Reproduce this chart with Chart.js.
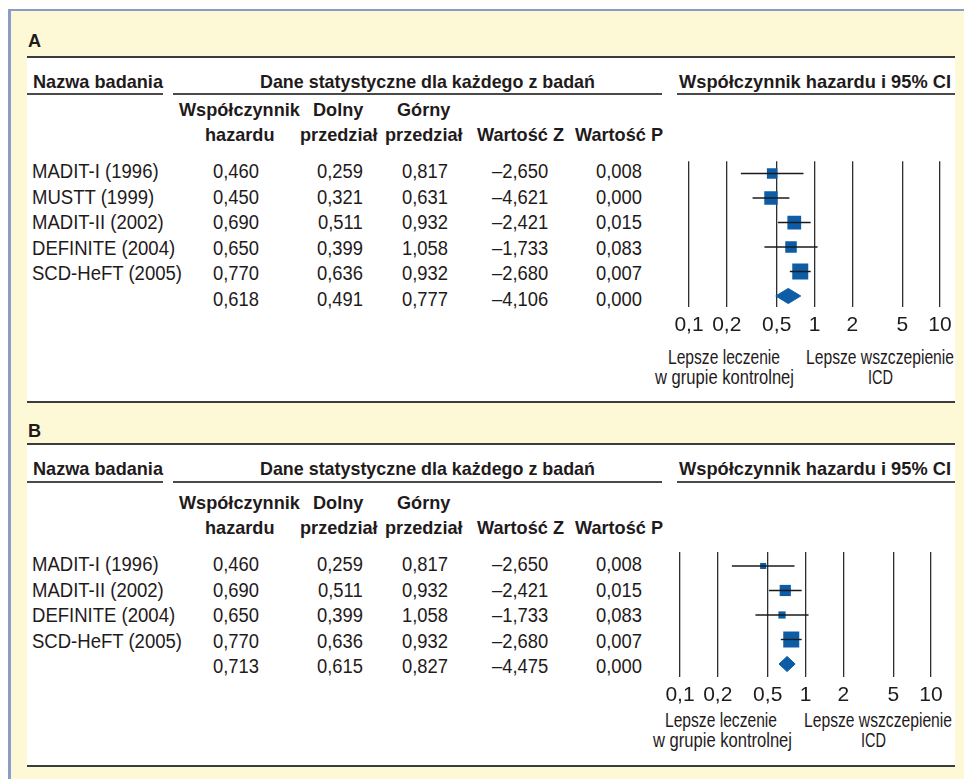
<!DOCTYPE html>
<html>
<head>
<meta charset="utf-8">
<script src="https://cdn.jsdelivr.net/npm/chart.js@4/dist/chart.umd.min.js"></script>
<style>
  html,body{margin:0;padding:0;background:#fff;}
  body{width:964px;height:779px;position:relative;overflow:hidden;
       font-family:"Liberation Sans",Arial,sans-serif;color:#1f1b1c;}
  #frame{position:absolute;left:8px;top:9px;width:956px;height:770px;background:#fdf8d6;
         border-left:3px solid #8b9cc9;border-top:2px solid #8b9cc9;box-sizing:border-box;}
  .panel{position:absolute;left:27px;width:928px;background:#fff;box-sizing:border-box;
         border-top:2px solid #3c3c3c;border-bottom:2px solid #3c3c3c;}
  .rule{position:absolute;height:2px;background:#4a4a4a;}
  .t{position:absolute;white-space:nowrap;line-height:1;transform-origin:0 50%;}
  .cv{position:absolute;}
</style>
</head>
<body>
<div id="frame"></div>
<div class="panel" style="top:56px;height:347px;"></div>
<div class="panel" style="top:443px;height:324px;"></div>
<div id="txt"></div>
<div class="cv" style="left:640px;top:150px;width:324px;height:200px;"><canvas id="chartA"></canvas></div>
<div class="cv" style="left:640px;top:540px;width:324px;height:200px;"><canvas id="chartB"></canvas></div>
<script>
// ---------------- DATA ----------------
const columnHeaders = ['Współczynnik\nhazardu', 'Dolny\nprzedział', 'Górny\nprzedział', 'Wartość Z', 'Wartość P'];

const studiesA = ['MADIT-I (1996)', 'MUSTT (1999)', 'MADIT-II (2002)', 'DEFINITE (2004)', 'SCD-HeFT (2005)', ''];
const hrA    = [0.460, 0.450, 0.690, 0.650, 0.770, 0.618];
const lowerA = [0.259, 0.321, 0.511, 0.399, 0.636, 0.491];
const upperA = [0.817, 0.631, 0.932, 1.058, 0.932, 0.777];
const zA     = [-2.650, -4.621, -2.421, -1.733, -2.680, -4.106];
const pA     = [0.008, 0.000, 0.015, 0.083, 0.007, 0.000];
const weightA = [0.66, 0.84, 0.86, 0.72, 1.00];   // relative study weights (marker size)

const studiesB = ['MADIT-I (1996)', 'MADIT-II (2002)', 'DEFINITE (2004)', 'SCD-HeFT (2005)', ''];
const hrB    = [0.460, 0.690, 0.650, 0.770, 0.713];
const lowerB = [0.259, 0.511, 0.399, 0.636, 0.615];
const upperB = [0.817, 0.932, 1.058, 0.932, 0.827];
const zB     = [-2.650, -2.421, -1.733, -2.680, -4.475];
const pB     = [0.008, 0.015, 0.083, 0.007, 0.000];
const weightB = [0.38, 0.70, 0.45, 1.00];

const tickValues = [0.1, 0.2, 0.5, 1, 2, 5, 10];
const tickLabels = ['0,1', '0,2', '0,5', '1', '2', '5', '10'];

// ---------------- STYLE ----------------
const BLUE = '#0d5ca6';
const FONT = '"Liberation Sans",Arial,sans-serif';
const REG = 20, BOLD = 19;

const txt = document.getElementById('txt');
function measure(text, bold, size){
  const s = document.createElement('span');
  s.className='t'; s.style.fontSize=size+'px'; s.style.fontWeight=bold?'bold':'normal';
  s.textContent=text; s.style.visibility='hidden'; txt.appendChild(s);
  const w = s.getBoundingClientRect().width; txt.removeChild(s); return w;
}
const regScale = 150 / measure('SCD-HeFT (2005)', false, REG);
const numScale = 46 / measure('0,460', false, REG);
const boldScale = 130 / measure('Nazwa badania', true, BOLD);

function put(text, x, cy, align, bold, w, sc){
  const size = bold ? BOLD : REG;
  const s = document.createElement('span');
  s.className='t'; s.style.fontSize=size+'px'; s.style.fontWeight=bold?'bold':'normal';
  s.textContent=text; txt.appendChild(s);
  const raw = s.getBoundingClientRect().width;
  const sx = w ? w/raw : (sc || (bold ? boldScale : regScale));
  const W = raw*sx;
  const left = align==='r' ? x-W : align==='c' ? x-W/2 : x;
  s.style.left = left+'px'; s.style.top = cy+'px';
  s.style.transform = 'translateY(-50%) scaleX('+sx+')';
}
function rule(x1, x2, y){
  const d=document.createElement('div'); d.className='rule';
  d.style.left=x1+'px'; d.style.width=(x2-x1)+'px'; d.style.top=(y-1)+'px'; txt.appendChild(d);
}
const fmt = v => (v<0?'\u2013':'') + Math.abs(v).toFixed(3).replace('.', ',');

function table(letter, studies, hr, lo, hi, z, p, hOff, rOff, letterY){
  put(letter, 28, letterY, 'l', true);
  put('Nazwa badania', 33, 80.5+hOff, 'l', true, 130);
  rule(27, 163, 94+hOff);
  put('Dane statystyczne dla każdego z badań', 260, 80.5+hOff, 'l', true, 335);
  rule(173, 662, 94+hOff);
  put('Współczynnik hazardu i 95% CI', 679, 80.5+hOff, 'l', true, 272);
  rule(677, 955, 94+hOff);
  const centers = [239.5, 338.5, 424, 520, 619.5];
  columnHeaders.forEach((h, i) => {
    const lines = h.split('\n');
    if (lines.length === 2){
      put(lines[0], centers[i], 108.5+rOff, 'c', true);
      put(lines[1], centers[i], 134+rOff, 'c', true);
    } else put(lines[0], centers[i], 134+rOff, 'c', true);
  });
  const rights = [259, 363, 448, 548, 642];
  studies.forEach((s, i) => {
    const y = 171 + 25.6*i + rOff;
    if (s) put(s, 32, y, 'l', false);
    put(fmt(hr[i]), rights[0], y, 'r', false, 0, numScale);
    put(fmt(lo[i]), rights[1], y, 'r', false, 0, numScale);
    put(fmt(hi[i]), rights[2], y, 'r', false, 0, numScale);
    put(fmt(z[i]),  rights[3], y, 'r', false, 0, numScale);
    put(fmt(p[i]),  rights[4], y, 'r', false, 0, numScale);
  });
}
table('A', studiesA, hrA, lowerA, upperA, zA, pA, 0, 0, 40);
table('B', studiesB, hrB, lowerB, upperB, zB, pB, 387.5, 393, 430);

// plot captions
put('Lepsze leczenie', 724, 357, 'c', false, 112);
put('w grupie kontrolnej', 724, 377, 'c', false, 139);
put('Lepsze wszczepienie', 880, 357, 'c', false, 148);
put('ICD', 880, 377, 'c', false, 25);
put('Lepsze leczenie', 721, 720, 'c', false, 112);
put('w grupie kontrolnej', 722, 740, 'c', false, 139);
put('Lepsze wszczepienie', 878, 720, 'c', false, 148);
put('ICD', 873, 740, 'c', false, 25);

// ---------------- CHARTS ----------------
const MAX_SIDE = 16;
function forest(id, hr, lo, hi, wts, pad, ymin, ymax){
  const n = hr.length, last = n-1;
  const datasets = [];
  for (let i=0;i<last;i++){
    datasets.push({data:[{x:lo[i],y:i},{x:hi[i],y:i}], showLine:true, borderColor:'#1b1b1b',
      borderWidth:1.4, pointRadius:0, order:0});
  }
  datasets.push({data: hr.slice(0,last).map((v,i)=>({x:v,y:i})), pointStyle:'rect',
    pointRadius: wts.map(w => w*MAX_SIDE/Math.SQRT2), backgroundColor:BLUE, borderWidth:0, order:1});
  const h = 0.31;
  datasets.push({data:[{x:lo[last],y:last},{x:hr[last],y:last-h},{x:hi[last],y:last},{x:hr[last],y:last+h},{x:lo[last],y:last}],
    showLine:true, fill:'shape', backgroundColor:BLUE, borderColor:BLUE, borderWidth:1, pointRadius:0, tension:0, order:1});
  return new Chart(document.getElementById(id), {
    type:'scatter',
    data:{datasets},
    options:{
      responsive:true, maintainAspectRatio:false, animation:false, events:[],
      layout:{padding:pad},
      plugins:{legend:{display:false}, tooltip:{enabled:false}},
      scales:{
        x:{type:'logarithmic', min:0.1, max:10, position:'bottom',
          afterBuildTicks: ax => { ax.ticks = tickValues.map(v => ({value:v})); },
          afterFit: ax => { ax.height = 40; },
          border:{display:false},
          grid:{color:'#2e2e2e', lineWidth:1.3, drawTicks:false},
          ticks:{autoSkip:false, maxRotation:0, padding:6, color:'#1f1b1c',
            font:{family:FONT, size:21},
            callback:(v, i) => tickLabels[i]}},
        y:{type:'linear', min:ymin, max:ymax, reverse:true, display:false}
      }
    }
  });
}
forest('chartA', hrA, lowerA, upperA, weightA, {left:49, right:24, top:11, bottom:3}, -0.5, 5.45);
forest('chartB', hrB, lowerB, upperB, weightB, {left:40, right:33, top:12, bottom:23}, -0.57, 4.53);
</script>
</body>
</html>
